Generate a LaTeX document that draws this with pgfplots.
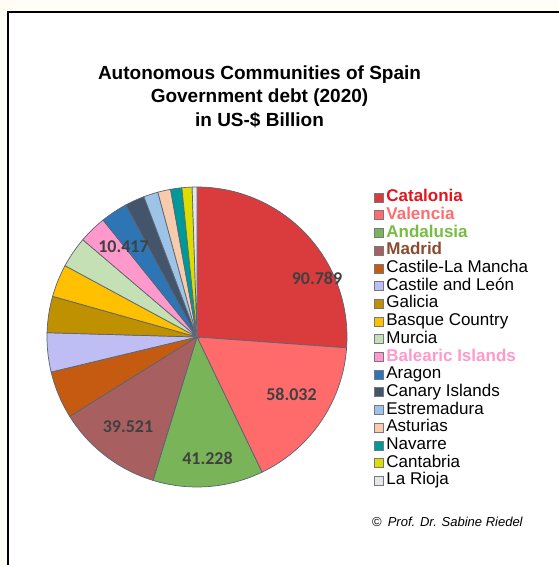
\documentclass[border=0pt]{standalone}
\usepackage{fontspec}
\setmainfont{Liberation Sans}
\newfontfamily\calibri{Carlito}
\usepackage{pgfplots}
\usepackage{pgfplotstable}
\pgfplotsset{compat=1.18}

\definecolor{bgcream}{RGB}{255,253,245}
\definecolor{edge}{RGB}{90,100,115}
\definecolor{legendgray}{RGB}{120,120,130}
\definecolor{labelgray}{RGB}{64,64,64}
\definecolor{cCat}{RGB}{218,60,62}
\definecolor{cVal}{RGB}{255,107,107}
\definecolor{cAnd}{RGB}{121,181,88}
\definecolor{cMad}{RGB}{168,95,95}
\definecolor{cCLM}{RGB}{197,90,17}
\definecolor{cCyL}{RGB}{190,190,245}
\definecolor{cGal}{RGB}{191,144,0}
\definecolor{cBas}{RGB}{255,192,0}
\definecolor{cMur}{RGB}{197,224,180}
\definecolor{cBal}{RGB}{255,153,204}
\definecolor{cAra}{RGB}{46,117,182}
\definecolor{cCan}{RGB}{68,84,106}
\definecolor{cEst}{RGB}{157,195,230}
\definecolor{cAst}{RGB}{248,203,173}
\definecolor{cNav}{RGB}{0,153,153}
\definecolor{cCnt}{RGB}{221,221,0}
\definecolor{cRio}{RGB}{231,230,230}
\definecolor{tCat}{RGB}{230,20,30}
\definecolor{tVal}{RGB}{255,110,110}
\definecolor{tAnd}{RGB}{118,189,66}
\definecolor{tMad}{RGB}{140,75,45}
\definecolor{tBal}{RGB}{255,153,204}

% government debt 2020, US-$ billion
\pgfplotstableread{
value  color
90.789 cCat
58.032 cVal
41.228 cAnd
39.521 cMad
17.8   cCLM
14.6   cCyL
13.6   cGal
12.2   cBas
11.6   cMur
10.417 cBal
10.1   cAra
7.3    cCan
5.4    cEst
4.8    cAst
4.2    cNav
3.8    cCnt
1.8    cRio
}\debt

% sum of all slices
\pgfplotstablegetrowsof{\debt}
\pgfmathtruncatemacro\lastrow{\pgfplotsretval-1}
\def\total{0}
\pgfplotsforeachungrouped \i in {0,...,\lastrow}{%
  \pgfplotstablegetelem{\i}{value}\of\debt
  \pgfmathsetmacro\total{\total+\pgfplotsretval}%
}

\begin{document}
\begin{tikzpicture}[x=1pt,y=1pt]
\fill[bgcream] (0,0) rectangle (559,565);
\fill[white] (8,0) rectangle (559,553);
\draw[line width=2pt] (8,0) -- (8,553) -- (559,553);

\node[anchor=base, font=\bfseries\fontsize{19}{23}\selectfont] at (259.5,485) {Autonomous Communities of Spain};
\node[anchor=base, font=\bfseries\fontsize{19}{23}\selectfont] at (259.5,462) {Government debt (2020)};
\node[anchor=base, font=\bfseries\fontsize{19}{23}\selectfont] at (259.5,438.5) {in US-\$ Billion};

\begin{axis}[
  at={(197pt,228pt)}, anchor=center,
  width=300pt, height=300pt, scale only axis,
  xmin=-1, xmax=1, ymin=-1, ymax=1,
  hide axis, clip=false,
  legend cell align=left,
  legend image code/.code={\draw[#1, draw=legendgray, line width=0.6pt] (0pt,-4.5pt) rectangle (9pt,4.5pt);},
  legend style={at={(1.08,1.0)}, anchor=north west, draw=none, fill=none,
    font=\fontsize{17}{17}\selectfont, row sep=1pt, column sep=2pt,
    nodes={inner sep=0.6pt, text height=12pt, text depth=3.5pt}},
]
\def\startangle{90}
\pgfplotsforeachungrouped \i in {0,...,\lastrow}{%
  \pgfplotstablegetelem{\i}{value}\of\debt
  \let\sliceval\pgfplotsretval
  \pgfplotstablegetelem{\i}{color}\of\debt
  \let\slicecol\pgfplotsretval
  \pgfmathsetmacro\endangle{\startangle-\sliceval/\total*360}%
  \edef\doslice{\noexpand\addplot[fill=\slicecol, draw=edge, line width=0.7pt,
      domain=\endangle:\startangle, samples=60, variable=\noexpand\t]
      ({cos(\noexpand\t)},{sin(\noexpand\t)}) -- (axis cs:0,0) -- cycle;}%
  \doslice
  \let\startangle\endangle
}
\legend{
  \textcolor{tCat}{\textbf{Catalonia}},
  \textcolor{tVal}{\textbf{Valencia}},
  \textcolor{tAnd}{\textbf{Andalusia}},
  \textcolor{tMad}{\textbf{Madrid}},
  Castile-La Mancha,
  Castile and León,
  Galicia,
  Basque Country,
  Murcia,
  \textcolor{tBal}{\textbf{Balearic Islands}},
  Aragon,
  Canary Islands,
  Estremadura,
  Asturias,
  Navarre,
  Cantabria,
  La Rioja}

\node[font=\calibri\bfseries\fontsize{18}{18}\selectfont, text=labelgray] at (axis cs:0.80,0.39) {90.789};
\node[font=\calibri\bfseries\fontsize{18}{18}\selectfont, text=labelgray] at (axis cs:0.63,-0.38) {58.032};
\node[font=\calibri\bfseries\fontsize{18}{18}\selectfont, text=labelgray] at (axis cs:0.07,-0.81) {41.228};
\node[font=\calibri\bfseries\fontsize{18}{18}\selectfont, text=labelgray] at (axis cs:-0.46,-0.60) {39.521};
\node[font=\calibri\bfseries\fontsize{18}{18}\selectfont, text=labelgray] at (axis cs:-0.49,0.60) {10.417};
\end{axis}

\node[anchor=base west, inner sep=0pt, font=\fontsize{13}{14}\selectfont] at (372,38) {©\hspace{6pt}\itshape Prof. Dr. Sabine Riedel};
\pgfresetboundingbox
\useasboundingbox (0,0) rectangle (559,565);
\end{tikzpicture}
\end{document}
